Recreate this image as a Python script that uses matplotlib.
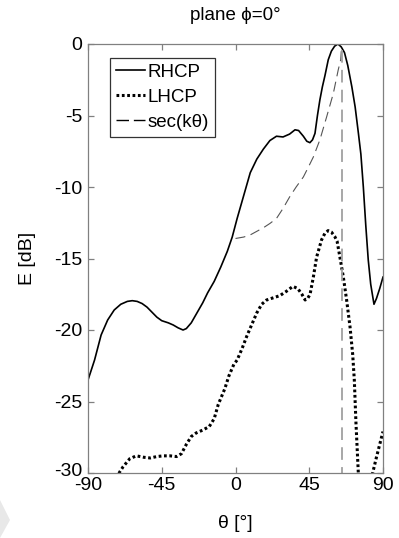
import matplotlib
matplotlib.use("Agg")
import matplotlib.pyplot as plt
from matplotlib.patches import Polygon
import matplotlib.transforms as mtransforms

plt.rcParams['font.family'] = ['Liberation Sans', 'DejaVu Sans']

# ---------------- data ----------------
theta_rhcp = [-90, -86, -82, -78, -74, -70, -66, -63, -60, -57, -54, -51, -48, -45, -41, -38,
              -35, -32, -30, -27, -23, -20, -17, -13, -9, -5, -2, 1, 5, 9, 13, 17, 21, 25,
              29, 33, 36.3, 38.5, 41.4, 43.5, 45.4, 47, 48.5, 50, 51.5, 53, 54.6, 56.6, 58.5,
              60.5, 62.5, 64.5, 66.5, 68.5, 71, 73, 75, 76.5, 78, 79.5, 81, 82.5, 84.5, 86,
              88, 90]
rhcp_db = [-23.5, -22.1, -20.35, -19.3, -18.6, -18.2, -18.0, -17.95, -18.0, -18.15, -18.4,
           -18.75, -19.1, -19.35, -19.5, -19.65, -19.85, -20.0, -19.9, -19.5, -18.7, -18.1,
           -17.4, -16.6, -15.6, -14.5, -13.5, -12.2, -10.6, -9.0, -8.05, -7.35, -6.75, -6.45,
           -6.5, -6.3, -6.0, -6.05, -6.45, -6.8, -6.9, -6.7, -6.25, -5.0, -3.9, -3.0, -2.2,
           -1.1, -0.5, -0.15, 0.0, -0.2, -0.6, -1.5, -3.0, -4.4, -6.25, -7.7, -10.0, -12.7,
           -15.1, -16.8, -18.2, -17.8, -17.1, -16.3]

theta_lhcp = [-76, -72, -70.5, -68.5, -64.5, -60.5, -56, -52, -48, -44, -40, -36, -33, -30,
              -27, -24, -20, -16, -13, -10.5, -8.5, -6.5, -4, -1, 1, 4, 7, 10, 13, 16, 19,
              23, 27, 31, 35, 38, 40.5, 42.5, 44, 45.5, 47.5, 49.5, 52.5, 54.5, 56.5, 58.5,
              60.5, 62, 63.7, 65.8, 67.8, 69.9, 71.5, 72.5, 73.5, 74.9, 76.5, 78.5, 80.5,
              82.5, 83.7, 86, 88, 90]
lhcp_db = [-31.0, -30.2, -29.9, -29.55, -29.0, -28.8, -28.9, -28.95, -28.85, -28.8, -28.8,
           -28.85, -28.65, -28.0, -27.45, -27.2, -27.0, -26.75, -26.2, -25.2, -24.65, -24.1,
           -23.2, -22.4, -22.1, -21.3, -20.4, -19.6, -18.8, -18.2, -17.9, -17.75, -17.6,
           -17.3, -16.95, -17.1, -17.5, -17.9, -17.8, -17.5, -16.3, -14.9, -13.7, -13.25,
           -13.05, -13.15, -13.45, -13.8, -14.9, -16.3, -17.9, -19.8, -21.7, -23.5, -26.5,
           -29.9, -34.0, -38.0, -37.0, -32.0, -30.0, -28.9, -28.0, -27.1]

theta_sec = [0, 5, 9, 13, 17, 21, 25, 29, 33, 37, 41.4, 44.5, 47.5, 51.5, 55.6, 59.7, 62.7,
             64.2, 64.6]
sec_db = [-13.6, -13.5, -13.35, -13.1, -12.85, -12.55, -12.2, -11.5, -10.7, -10.0, -9.3,
          -8.6, -7.9, -6.7, -5.1, -3.45, -1.8, -1.1, -0.4]

theta_asym = [64.8, 64.8]
asym_db = [-0.4, -30]

xticks = [-90, -45, 0, 45, 90]
yticks = [0, -5, -10, -15, -20, -25, -30]

# ---------------- figure ----------------
fig = plt.figure(figsize=(3.99, 5.38), dpi=100)
ax = fig.add_axes([88 / 399, 1 - 473 / 538, 295 / 399, 429 / 538])

ax.plot(theta_rhcp, rhcp_db, color='black', lw=1.2, solid_joinstyle='round', label='RHCP')
ax.plot(theta_lhcp, lhcp_db, color='black', lw=2.2, linestyle=(0, (0.9, 0.85)),
        dash_capstyle='butt', label='LHCP')
ax.plot(theta_sec, sec_db, color='#555555', lw=0.8, linestyle=(0, (9, 5)),
        label='sec(k\u03b8)')
ax.plot(theta_asym, asym_db, color='#a0a0a0', lw=1.3, linestyle=(0, (7, 4)))

ax.set_xlim(-90, 90)
ax.set_ylim(-30, 0)
ax.set_xticks(xticks)
ax.set_yticks(yticks)
ax.set_xticklabels([str(t) for t in xticks])
ax.set_yticklabels([str(t) for t in yticks])

for s in ax.spines.values():
    s.set_color('#808080')
    s.set_linewidth(0.9)
ax.tick_params(direction='in', length=4, width=0.9, color='#808080',
               top=True, right=True, labelsize=14, labelcolor='black')
ax.tick_params(axis='x', pad=3)
ax.tick_params(axis='y', pad=4)

# lift the bottom y label slightly so it does not collide with the -90 label
lab = ax.get_yticklabels()[-1]
lab.set_transform(lab.get_transform() + mtransforms.ScaledTranslation(0, 3 / 100, fig.dpi_scale_trans))

leg = ax.legend(loc='upper left', bbox_to_anchor=(0.075, 0.967), fontsize=13.5,
                frameon=True, fancybox=False, borderpad=0.3, labelspacing=0.42,
                handlelength=1.55, handletextpad=0.15, borderaxespad=0)
leg.get_frame().set_edgecolor('#333333')
leg.get_frame().set_linewidth(0.9)
leg.get_frame().set_facecolor('white')
leg.get_frame().set_alpha(1)
hs = leg.legend_handles
hs[1].set_dashes((0.9, 0.85))
hs[2].set_color('black')
hs[2].set_linewidth(1.0)
hs[2].set_dashes((9, 3.5))

fig.text(235.5 / 399, 1 - 15 / 538, 'plane \u03d5=0\u00b0', ha='center', va='center', fontsize=13.5)
fig.text(235.5 / 399, 1 - 523 / 538, '\u03b8 [\u00b0]', ha='center', va='center', fontsize=14)
fig.text(28 / 399, 1 - 258 / 538, 'E [dB]', ha='center', va='center', rotation=90, fontsize=14)

# faint gray marker at lower-left corner
fig.patches.append(Polygon([[0, 1 - 500 / 538], [10 / 399, 1 - 520 / 538], [0, 1 - 538 / 538]],
                           closed=True, transform=fig.transFigure, facecolor='#e8e8e8',
                           edgecolor='none'))

fig.savefig('out.png', dpi=100)
